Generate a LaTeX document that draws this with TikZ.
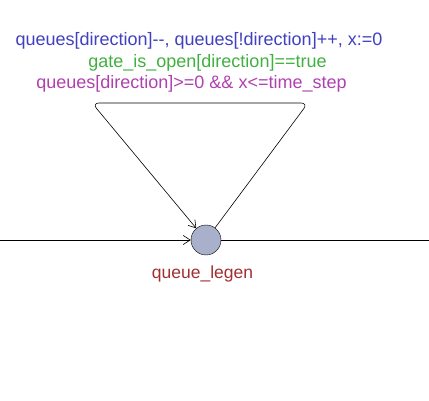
\documentclass[tikz,border=0pt]{standalone}
\usepackage{fontspec}
\setmainfont{Liberation Sans}
\usetikzlibrary{arrows.meta}
\definecolor{assigncol}{RGB}{64,64,192}
\definecolor{syncol}{RGB}{64,176,64}
\definecolor{guardcol}{RGB}{176,64,176}
\definecolor{namecol}{RGB}{160,48,48}
\definecolor{locfill}{RGB}{168,176,204}

\begin{document}
\begin{tikzpicture}[x=1pt, y=-1pt]
\tikzstyle{location} = [circle, draw = black, fill = locfill, minimum size = 30pt, inner sep = 0pt]
\tikzstyle{label} = [inner sep = 0pt, font = \fontsize{18}{20}\selectfont]
\tikzstyle{edge} = [-{Straight Barb[length=7pt, width=9pt]}, semithick]
\useasboundingbox (0, 0) rectangle (429, 401);
% -----------------------------------
% Location
\node[location] (legen) at (206, 240) {};
\node[label, font = \fontsize{17.5}{20}\selectfont, text = namecol] (legenname) at (202.5, 274) {queue\_legen};

\coordinate (west) at (0, 240);
\coordinate (east) at (429, 240);
\draw[edge] (west)--(legen);
\draw[semithick] (legen)--(east);

% -----------------------------------
% Self loop
\coordinate (nailR) at (308, 103);
\coordinate (nailL) at (92, 103);
\draw[edge, rounded corners = 7pt] (legen)--(nailR)--(nailL)--(legen);

\node[label, text = assigncol] (assign) at (199, 41) {queues[direction]{-}{-}, queues[!direction]++, x:=0};
\node[label, text = syncol] (gate) at (207.5, 63) {gate\_is\_open[direction]==true};
\node[label, text = guardcol] (guard) at (191.5, 84) {queues[direction]>=0 \&\& x<=time\_step};
% -----------------------------------
\end{tikzpicture}
\end{document}
